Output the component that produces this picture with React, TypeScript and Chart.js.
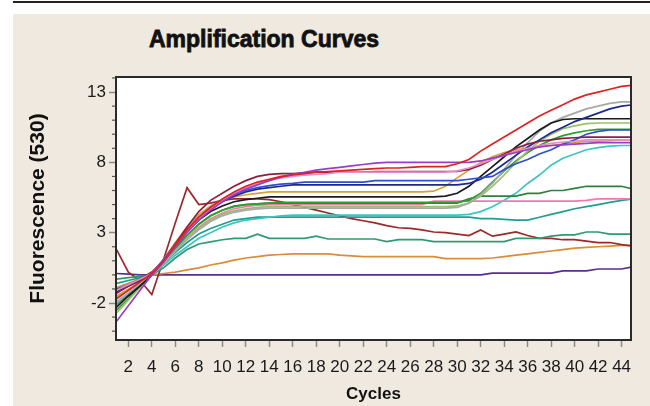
import React, { useEffect, useRef } from "react";
import { Chart, registerables } from "chart.js";

Chart.register(...registerables);

const cycles = [1,2,3,4,5,6,7,8,9,10,11,12,13,14,15,16,17,18,19,20,21,22,23,24,25,26,27,28,29,30,31,32,33,34,35,36,37,38,39,40,41,42,43,44,45];
const xTickValues = [2,4,6,8,10,12,14,16,18,20,22,24,26,28,30,32,34,36,38,40,42,44];
const yTickValues = [-2,3,8,13];

const purpleFlat = [0.1,0.05,0,0,0,0,0,0,0,0, 0,0,0,0,0,0,0,0,0,0, 0,0,0,0,0,0,0,0,0,0, 0,0,0.12,0.12,0.12,0.12,0.12,0.12,0.28,0.28, 0.28,0.42,0.42,0.42,0.58];
const orange = [-0.9,-0.6,-0.3,0,0.1,0.2,0.35,0.5,0.7,0.85, 1.05,1.2,1.3,1.4,1.45,1.5,1.5,1.5,1.5,1.4, 1.35,1.3,1.3,1.3,1.3,1.3,1.3,1.3,1.15,1.15, 1.15,1.15,1.2,1.3,1.4,1.5,1.6,1.7,1.8,1.9, 1.95,2.0,2.05,2.1,2.1];
const darkRed = [1.8,0.2,-0.4,-1.4,1.1,3.7,6.2,5.0,5.1,5.3, 5.4,5.4,5.4,5.35,5.2,5.0,4.8,4.6,4.4,4.2, 4.0,3.85,3.7,3.5,3.35,3.3,3.2,3.05,3.0,2.9, 2.8,3.2,2.75,2.9,3.05,2.8,2.6,2.6,2.5,2.5, 2.4,2.3,2.3,2.15,2.05];
const seaGreen = [-0.3,-0.2,-0.1,0,0.5,1.2,1.8,2.2,2.35,2.5, 2.6,2.6,2.9,2.6,2.6,2.6,2.6,2.75,2.55,2.55, 2.55,2.55,2.55,2.36,2.5,2.5,2.5,2.36,2.36,2.36, 2.36,2.36,2.36,2.36,2.6,2.6,2.6,2.75,2.84,2.84, 3.05,3.05,2.9,2.9,2.9];
const teal = [-0.6,-0.4,-0.2,0,0.8,1.6,2.3,2.9,3.3,3.6, 3.9,4.0,4.1,4.1,4.1,4.1,4.1,4.1,4.1,4.1, 4.1,4.1,4.1,4.1,4.1,4.1,4.1,4.1,4.1,4.1, 4.1,4.0,4.0,3.95,3.9,3.9,4.1,4.3,4.5,4.7, 4.85,5.0,5.15,5.3,5.4];
const cyan = [-1.9,-1.3,-0.6,0,0.7,1.4,2.0,2.6,3.0,3.4, 3.7,3.9,4.0,4.1,4.2,4.25,4.25,4.25,4.25,4.25, 4.25,4.25,4.25,4.25,4.25,4.25,4.25,4.25,4.25,4.25, 4.3,4.5,4.85,5.3,5.8,6.5,7.1,7.8,8.3,8.6, 8.9,9.05,9.15,9.2,9.2];
const darkGreen = [-2.1,-1.4,-0.7,0,0.9,1.9,2.8,3.6,4.2,4.6, 4.9,5.0,5.05,5.1,5.1,5.1,5.1,5.1,5.1,5.1, 5.1,5.1,5.1,5.1,5.1,5.1,5.1,5.1,5.1,5.1, 5.4,5.6,5.6,5.6,5.6,5.8,5.8,6.0,6.0,6.15, 6.3,6.3,6.3,6.3,6.1];
const pinkLow = [-1.6,-1.1,-0.5,0,0.8,1.7,2.6,3.4,4.0,4.4, 4.7,4.85,4.95,5.0,5.0,5.0,5.0,5.0,5.0,5.0, 5.0,5.0,5.0,5.0,5.0,5.0,5.0,5.25,5.25,5.25, 5.25,5.25,5.25,5.25,5.25,5.25,5.25,5.25,5.25,5.25, 5.3,5.4,5.4,5.4,5.4];
const green = [-2.5,-1.7,-0.8,0,0.9,1.9,2.8,3.6,4.2,4.6, 4.85,5.0,5.05,5.1,5.15,5.15,5.15,5.15,5.15,5.15, 5.15,5.15,5.15,5.15,5.15,5.15,5.15,5.15,5.15,5.15, 5.3,5.8,6.6,7.4,8.1,8.7,9.2,9.6,9.9,10.1, 10.25,10.35,10.35,10.35,10.35];
const yellowGreen = [-2.7,-1.8,-0.9,0,0.8,1.7,2.6,3.3,3.9,4.3, 4.55,4.7,4.8,4.85,4.85,4.85,4.85,4.85,4.85,4.85, 4.85,4.85,4.85,4.85,4.85,4.85,4.85,4.85,4.85,4.9, 5.1,5.6,6.3,7.1,8.0,8.8,9.5,10.0,10.4,10.6, 10.75,10.8,10.8,10.8,10.8];
const gray = [-2.0,-1.3,-0.6,0,0.8,1.7,2.5,3.2,3.8,4.2, 4.45,4.6,4.7,4.75,4.75,4.75,4.75,4.75,4.75,4.75, 4.75,4.75,4.75,4.75,4.75,4.75,4.75,4.75,4.75,4.8, 5.1,5.7,6.5,7.5,8.5,9.4,10.2,10.8,11.2,11.5, 11.8,12.0,12.2,12.3,12.3];
const black = [-2.3,-1.5,-0.8,0,1.0,2.1,3.1,3.9,4.5,4.9, 5.2,5.35,5.45,5.55,5.55,5.55,5.55,5.55,5.55,5.55, 5.55,5.55,5.55,5.55,5.55,5.55,5.55,5.55,5.6,5.8, 6.3,7.0,7.7,8.4,9.1,9.7,10.3,10.8,11.05,11.1, 11.1,11.1,11.1,11.1,11.1];
const gold = [-1.5,-1.0,-0.5,0,1.1,2.3,3.4,4.3,4.9,5.3, 5.55,5.7,5.8,5.9,5.9,5.9,5.9,5.9,5.9,5.9, 5.9,5.9,5.9,5.9,5.9,5.9,5.9,5.95,6.3,6.9, 7.45,8.0,8.4,8.7,8.9,9.0,9.1,9.2,9.3,9.4, 9.5,9.5,9.55,9.6,9.6];
const navy = [-1.2,-0.8,-0.4,0,1.0,2.1,3.1,4.0,4.7,5.2, 5.6,5.9,6.1,6.2,6.3,6.4,6.4,6.4,6.4,6.4, 6.4,6.4,6.4,6.4,6.4,6.4,6.4,6.4,6.4,6.4, 6.5,6.8,7.3,7.9,8.5,9.1,9.6,10.1,10.5,10.9, 11.2,11.5,11.8,12.0,12.1];
const blue = [-1.0,-0.7,-0.3,0.1,1.1,2.2,3.2,4.1,4.8,5.3, 5.7,6.0,6.2,6.35,6.45,6.5,6.6,6.6,6.6,6.6, 6.6,6.6,6.7,6.7,6.7,6.7,6.7,6.7,6.7,6.7, 6.8,6.9,7.0,7.5,7.9,8.2,8.6,8.9,9.3,9.6, 10.0,10.2,10.3,10.3,10.3];
const pink = [-1.1,-0.7,-0.3,0.1,1.0,2.1,3.1,4.0,4.7,5.3, 5.8,6.2,6.5,6.75,6.9,7.0,7.1,7.15,7.2,7.3, 7.3,7.3,7.3,7.3,7.3,7.3,7.3,7.3,7.3,7.4, 7.6,7.9,8.2,8.5,8.8,9.0,9.2,9.35,9.45,9.5, 9.6,9.6,9.6,9.6,9.6];
const violet = [-3.3,-2.2,-1.1,0,0.9,2.0,3.0,3.9,4.6,5.2, 5.7,6.1,6.4,6.7,6.95,7.15,7.3,7.45,7.55,7.65, 7.75,7.85,7.95,8.0,8.0,8.0,8.0,8.0,8.0,8.0, 8.0,8.1,8.3,8.5,8.7,8.9,9.1,9.2,9.25,9.3, 9.35,9.4,9.4,9.4,9.4];
const red = [-1.7,-1.1,-0.5,0.1,1.0,2.1,3.2,4.1,4.8,5.4, 5.9,6.3,6.6,6.8,7.0,7.1,7.2,7.3,7.35,7.4, 7.45,7.5,7.55,7.6,7.6,7.65,7.7,7.7,7.7,7.9, 8.2,8.8,9.3,9.8,10.3,10.8,11.3,11.7,12.1,12.5, 12.8,13.0,13.2,13.4,13.5];
const maroon = [-1.3,-0.8,-0.3,0.2,1.0,2.2,3.4,4.5,5.3,5.8, 6.3,6.7,7.0,7.15,7.2,7.2,7.25,7.3,7.3,7.3, 7.3,7.3,7.35,7.35,7.35,7.35,7.35,7.35,7.35,7.35, 7.5,7.8,8.2,8.6,9.0,9.3,9.5,9.6,9.7,9.75, 9.8,9.8,9.8,9.8,9.8];

const seriesList: { name: string; values: number[]; color: string }[] = [
  { name: "red", values: red, color: "#dc2323" },
  { name: "violet", values: violet, color: "#9a3cc8" },
  { name: "pink", values: pink, color: "#e68cc8" },
  { name: "maroon", values: maroon, color: "#8c1f40" },
  { name: "blue", values: blue, color: "#2f4fd0" },
  { name: "navy", values: navy, color: "#1c2a8c" },
  { name: "gold", values: gold, color: "#d9a03a" },
  { name: "black", values: black, color: "#1a1a1a" },
  { name: "gray", values: gray, color: "#a8a8a8" },
  { name: "yellowGreen", values: yellowGreen, color: "#9cc068" },
  { name: "green", values: green, color: "#2ca02c" },
  { name: "darkGreen", values: darkGreen, color: "#2e8040" },
  { name: "pinkLow", values: pinkLow, color: "#f07ab0" },
  { name: "cyan", values: cyan, color: "#3cc4c0" },
  { name: "teal", values: teal, color: "#1f9e8f" },
  { name: "seaGreen", values: seaGreen, color: "#2f9a72" },
  { name: "darkRed", values: darkRed, color: "#9a2a2a" },
  { name: "orange", values: orange, color: "#d98c3a" },
  { name: "purpleFlat", values: purpleFlat, color: "#5a2d91" },
];

const FONT = "'Liberation Sans', Arial, Helvetica, sans-serif";

const framePlugin = {
  id: "frame",
  beforeDraw(chart: any) {
    const { ctx, chartArea } = chart;
    const { left, top, right, bottom } = chartArea;
    ctx.save();
    ctx.fillStyle = "#ffffff";
    ctx.fillRect(left, top, right - left, bottom - top);
    ctx.restore();
  },
  afterDraw(chart: any) {
    const { ctx, chartArea, scales } = chart;
    const { left, top, right, bottom } = chartArea;
    ctx.save();
    ctx.strokeStyle = "#2a2a2a";
    ctx.lineWidth = 2;
    ctx.strokeRect(left, top, right - left, bottom - top);
    const ys = scales.y;
    ctx.strokeStyle = "#555";
    ctx.lineWidth = 1.2;
    for (let v = Math.ceil(ys.min); v <= Math.floor(ys.max); v++) {
      if (yTickValues.includes(v)) continue;
      const py = ys.getPixelForValue(v);
      ctx.beginPath();
      ctx.moveTo(left - 4, py);
      ctx.lineTo(left - 1, py);
      ctx.stroke();
    }
    ctx.restore();
  },
};

export default function App() {
  const canvasRef = useRef<HTMLCanvasElement | null>(null);

  useEffect(() => {
    if (!canvasRef.current) return;
    const chart = new Chart(canvasRef.current, {
      type: "line",
      data: {
        datasets: seriesList.map((s) => ({
          label: s.name,
          data: s.values.map((v, i) => ({ x: cycles[i], y: v })),
          borderColor: s.color,
          backgroundColor: s.color,
          borderWidth: 1.7,
          pointRadius: 0,
          tension: 0,
          fill: false,
        })),
      },
      options: {
        responsive: false,
        animation: false,
        devicePixelRatio: 1,
        layout: { padding: { left: 0, right: 19, top: 77, bottom: 0 } },
        plugins: {
          legend: { display: false },
          tooltip: { enabled: false },
          title: { display: false },
        },
        scales: {
          x: {
            type: "linear",
            min: 0.95,
            max: 44.8,
            afterBuildTicks: (scale: any) => {
              scale.ticks = xTickValues.map((v) => ({ value: v }));
            },
            afterFit: (scale: any) => {
              scale.height = 66;
            },
            ticks: {
              autoSkip: false,
              maxRotation: 0,
              minRotation: 0,
              padding: 10,
              color: "#1a1a1a",
              font: { family: FONT, size: 17 },
            },
            grid: {
              display: true,
              drawOnChartArea: false,
              drawTicks: true,
              tickLength: 7,
              tickColor: "#8a8a8a",
              tickWidth: 1.5,
            },
            border: { display: false },
            title: {
              display: true,
              text: "Cycles",
              color: "#111",
              font: { family: FONT, size: 17, weight: "bold" },
              padding: { top: 0, bottom: 1 },
            },
          },
          y: {
            type: "linear",
            min: -4.63,
            max: 14.07,
            afterBuildTicks: (scale: any) => {
              scale.ticks = yTickValues.map((v) => ({ value: v }));
            },
            afterFit: (scale: any) => {
              scale.width = 116;
            },
            ticks: {
              padding: 3,
              color: "#1a1a1a",
              font: { family: FONT, size: 17 },
            },
            grid: {
              display: true,
              drawOnChartArea: false,
              drawTicks: true,
              tickLength: 7,
              tickColor: "#8a8a8a",
              tickWidth: 1.5,
            },
            border: { display: false },
            title: {
              display: true,
              text: "Fluorescence (530)",
              color: "#111",
              font: { family: FONT, size: 21, weight: "bold" },
              padding: { top: 26, bottom: 0 },
            },
          },
        },
      },
      plugins: [framePlugin],
    } as any);
    return () => chart.destroy();
  }, []);

  return (
    <div
      style={{
        position: "absolute",
        left: 0,
        top: 0,
        width: 650,
        height: 406,
        background: "#ffffff",
        overflow: "hidden",
      }}
    >
      <div style={{ position: "absolute", left: 13, top: 1, width: 637, height: 2, background: "#222" }} />
      <div style={{ position: "absolute", left: 13, top: 14, right: 0, bottom: 0, background: "#efe9df" }} />
      <div
        style={{
          position: "absolute",
          left: 149,
          top: 27,
          fontFamily: FONT,
          fontWeight: 900,
          fontSize: 23,
          lineHeight: "24px",
          color: "#111",
          whiteSpace: "nowrap",
          WebkitTextStroke: "0.8px #111",
        }}
      >
        Amplification Curves
      </div>
      <canvas
        ref={canvasRef}
        width={650}
        height={406}
        style={{ position: "absolute", left: 0, top: 0, width: 650, height: 406 }}
      />
    </div>
  );
}
